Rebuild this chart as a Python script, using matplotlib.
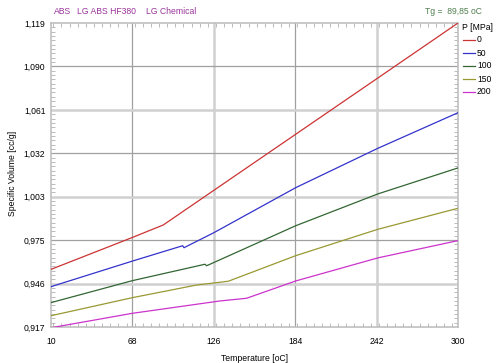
import numpy as np
import matplotlib
matplotlib.use("Agg")
import matplotlib.pyplot as plt
from matplotlib.ticker import MultipleLocator, FixedLocator

plt.rcParams['font.family'] = ['Liberation Sans', 'DejaVu Sans']

# pvT data (Temperature [oC], Specific Volume [cc/g])
t_0 = [10, 68, 90, 184.4, 242.8, 300]
v_0 = [0.9553, 0.9765, 0.9848, 1.0451, 1.0824, 1.119]
t_50 = [10, 68, 103.8, 104.8, 126.1, 184.4, 242.8, 300]
v_50 = [0.9438, 0.9608, 0.9710, 0.9697, 0.9797, 1.0096, 1.0357, 1.0594]
t_100 = [10, 68, 119.7, 120.9, 184.4, 242.8, 300]
v_100 = [0.9332, 0.9478, 0.9587, 0.9577, 0.9843, 1.0054, 1.0227]
t_150 = [10, 68, 113.8, 136.3, 184.4, 242.8, 300]
v_150 = [0.9245, 0.9365, 0.9449, 0.9474, 0.9644, 0.9819, 0.9959]
t_200 = [10, 68, 130.4, 149.4, 184.4, 242.8, 300]
v_200 = [0.9165, 0.9261, 0.9343, 0.9361, 0.9476, 0.9629, 0.9744]

pressures = ["0", "50", "100", "150", "200"]
colors = ["#cc3333", "#3333cc", "#336633", "#999933", "#cc33cc"]

x_ticks = [10, 68, 126, 184, 242, 300]
y_labels = ["0,917", "0,946", "0,975", "1,003", "1,032", "1,061", "1,090", "1,119"]
header = ["ABS", "LG ABS HF380", "LG Chemical"]

fs = 6.2
fig = plt.figure(figsize=(4.97, 3.63), dpi=100)
ax = fig.add_axes([51/497, 36/363, 407/497, 304/363])

ymin, ymax = 0.917, 1.119
yt = np.linspace(ymin, ymax, len(y_labels))

# alternating grid lines
for i, x in enumerate(x_ticks[1:-1]):
    if i % 2 == 0:
        ax.axvline(x, color="#a0a0a0", lw=0.9, zorder=1)
    else:
        ax.axvline(x, color="#d0d0d0", lw=1.8, zorder=1)
for i, y in enumerate(yt[1:-1]):
    if i % 2 == 0:
        ax.axhline(y, color="#d0d0d0", lw=1.8, zorder=1)
    else:
        ax.axhline(y, color="#a0a0a0", lw=0.9, zorder=1)

series = [(t_0, v_0), (t_50, v_50), (t_100, v_100), (t_150, v_150), (t_200, v_200)]
for (t, v), c in zip(series, colors):
    ax.plot(t, v, color=c, lw=0.9, zorder=3)

ax.set_xlim(10, 300)
ax.set_ylim(ymin, ymax)
ax.set_xticks(x_ticks)
ax.set_xticklabels([str(x) for x in x_ticks], fontsize=fs)
ax.set_yticks(yt)
ax.set_yticklabels(y_labels, fontsize=fs)
ax.xaxis.set_minor_locator(MultipleLocator(5.8))
ax.yaxis.set_minor_locator(FixedLocator(np.linspace(ymin, ymax, 71)))
ax.tick_params(which="both", direction="in", top=True, right=True,
               color="#b0b0b0", pad=4)
ax.tick_params(which="major", length=0)
ax.tick_params(which="minor", length=3, width=0.6)
ax.tick_params(axis="x", pad=7)
for s in ax.spines.values():
    s.set_color("#c0c0c0")
    s.set_linewidth(1.2)

ax.set_xlabel("Temperature [oC]", fontsize=fs, labelpad=6)
fig.text(13/497, 1 - 173/363, "Specific Volume [cc/g]", fontsize=fs,
         rotation=90, ha="center", va="center")

for txt, xp in zip(header, [54, 77, 146]):
    fig.text(xp/497, 1 - 11/363, txt, fontsize=fs, color="#993399", va="center")
fig.text(482/497, 1 - 11/363, "Tg =  89,85 oC", fontsize=fs,
         color="#4f7f4f", va="center", ha="right")

# legend outside on the right
fig.text(462/497, 1 - 27/363, "P [MPa]", fontsize=fs, va="center")
for i, (p, c) in enumerate(zip(pressures, colors)):
    yy = 1 - (40 + 13 * i) / 363
    fig.add_artist(plt.Line2D([463/497, 475/497], [yy, yy], color=c, lw=0.9,
                              transform=fig.transFigure))
    fig.text(477/497, yy, p, fontsize=fs, va="center")

fig.savefig("out.png", dpi=100)
